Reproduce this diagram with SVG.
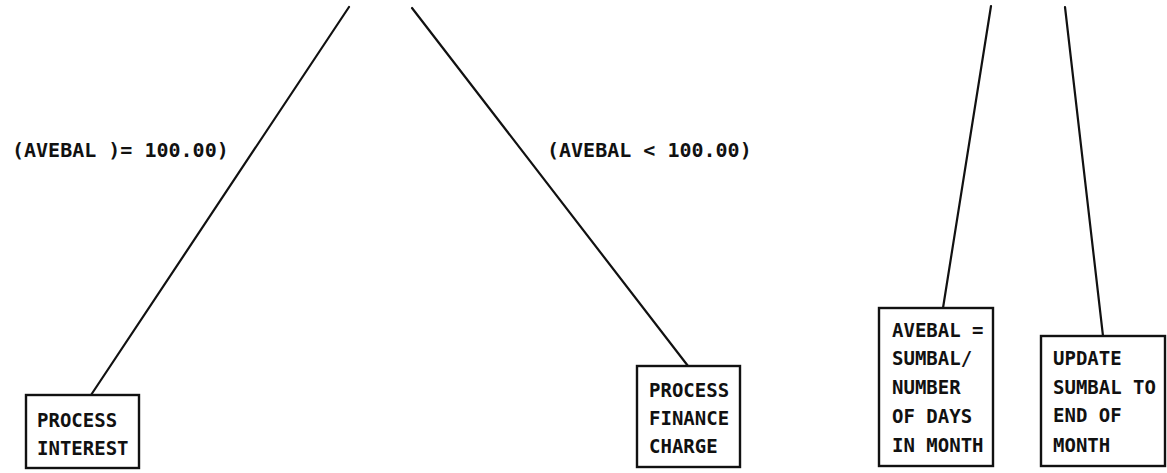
<svg xmlns="http://www.w3.org/2000/svg" width="1167" height="473" viewBox="0 0 1167 473">
<style>
.box{fill:#fff;stroke:#111;stroke-width:2.4}
.conn{stroke:#111;stroke-width:2.2;fill:none;stroke-linecap:round}
.t{font-family:"DejaVu Sans Mono","Liberation Mono",monospace;font-weight:bold;font-size:19px;fill:#111}
.lbl{font-family:"DejaVu Sans Mono","Liberation Mono",monospace;font-weight:bold;font-size:20px;fill:#111}
</style>
<rect width="1167" height="473" fill="#fff"/>
<g id="connectors">
<line class="conn" x1="349" y1="7" x2="91" y2="395"/>
<line class="conn" x1="412" y1="8" x2="688" y2="366"/>
<line class="conn" x1="991" y1="6" x2="943" y2="308"/>
<line class="conn" x1="1065" y1="7" x2="1103" y2="336"/>
<text class="lbl" x="12" y="157">(AVEBAL )= 100.00)</text>
<text class="lbl" x="547" y="157">(AVEBAL &lt; 100.00)</text>
</g>
<g id="process-interest">
<rect class="box" x="26" y="395" width="113" height="73"/>
<text class="t" x="37" y="427">PROCESS</text>
<text class="t" x="37" y="455">INTEREST</text>
</g>
<g id="process-finance-charge">
<rect class="box" x="637" y="366" width="103" height="101"/>
<text class="t" x="649" y="397">PROCESS</text>
<text class="t" x="649" y="425">FINANCE</text>
<text class="t" x="649" y="453">CHARGE</text>
</g>
<g id="avebal">
<rect class="box" x="879" y="308" width="114" height="158"/>
<text class="t" x="892" y="337">AVEBAL =</text>
<text class="t" x="892" y="365">SUMBAL/</text>
<text class="t" x="892" y="394">NUMBER</text>
<text class="t" x="892" y="423">OF DAYS</text>
<text class="t" x="892" y="452">IN MONTH</text>
</g>
<g id="update-sumbal">
<rect class="box" x="1041" y="336" width="124" height="130"/>
<text class="t" x="1053" y="365">UPDATE</text>
<text class="t" x="1053" y="394">SUMBAL TO</text>
<text class="t" x="1053" y="422">END OF</text>
<text class="t" x="1053" y="452">MONTH</text>
</g>
</svg>
